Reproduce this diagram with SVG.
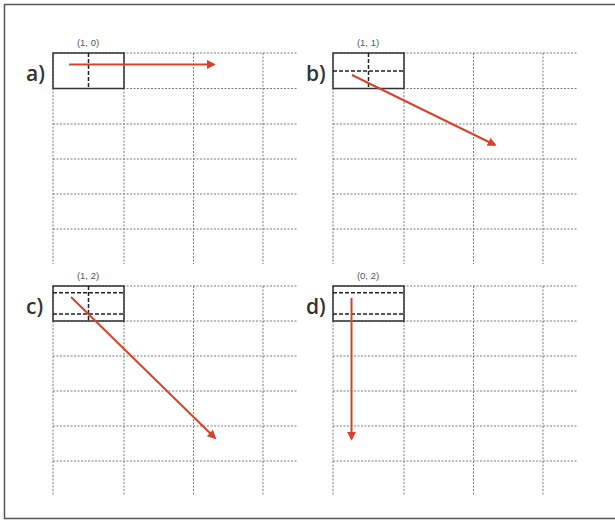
<svg xmlns="http://www.w3.org/2000/svg" width="615" height="520" viewBox="0 0 615 520">
<defs>
<style>
.bg{fill:#fff}
.frame{fill:none;stroke:#555;stroke-width:1.5}
.grid{stroke:#7a7a7a;stroke-width:1;stroke-dasharray:2 1.5;fill:none}
.box{fill:none;stroke:#333;stroke-width:1.5}
.inner{stroke:#222;stroke-width:1.5;stroke-dasharray:4 2;fill:none}
.arrow{stroke:#d4442a;stroke-width:2;fill:none;marker-end:url(#ah)}
.coord{font-family:"Liberation Sans",Arial,sans-serif;font-size:9.5px;fill:#555;text-anchor:middle}
.lbl{font-family:"Open Sans","Liberation Sans",sans-serif;font-size:21px;font-weight:600;fill:#333}
</style>
<marker id="ah" viewBox="0 0 10 10" refX="8" refY="5" markerWidth="4.5" markerHeight="4.5" orient="auto" markerUnits="strokeWidth">
<path d="M0,0 L10,5 L0,10 z" fill="#d4442a"/>
</marker>
<g id="gridA">
<path class="grid" d="M53,53V264 M124,53V264 M193.5,53V264 M263,53V264 M53,53H298 M53,88.5H298 M53,124H298 M53,159H298 M53,194H298 M53,229H298"/>
</g>
<g id="gridC">
<path class="grid" d="M53,286V495 M124,286V495 M193.5,286V495 M263,286V495 M53,286H298 M53,321H298 M53,356H298 M53,391H298 M53,426H298 M53,461H298"/>
</g>
</defs>
<rect class="bg" width="615" height="520"/>
<rect class="frame" x="4.5" y="4.5" width="620" height="514"/>

<g id="panel-a">
<use href="#gridA"/>
<rect class="box" x="53" y="53" width="71" height="35.5"/>
<line class="inner" x1="88.5" y1="53" x2="88.5" y2="88.5"/>
<text class="coord" x="88" y="46">(1, 0)</text>
<text class="lbl" x="26" y="81">a)</text>
</g>

<g id="panel-b">
<use href="#gridA" transform="translate(280,0)"/>
<rect class="box" x="333" y="53" width="71" height="35.5"/>
<line class="inner" x1="368.5" y1="53" x2="368.5" y2="88.5"/>
<line class="inner" x1="333" y1="71" x2="404" y2="71"/>
<text class="coord" x="368" y="46">(1, 1)</text>
<text class="lbl" x="306" y="81">b)</text>
</g>

<g id="panel-c">
<use href="#gridC"/>
<rect class="box" x="53" y="286" width="71" height="35"/>
<line class="inner" x1="88.5" y1="286" x2="88.5" y2="321"/>
<line class="inner" x1="53" y1="292.7" x2="124" y2="292.7"/>
<line class="inner" x1="53" y1="314" x2="124" y2="314"/>
<text class="coord" x="88" y="279">(1, 2)</text>
<text class="lbl" x="26" y="314">c)</text>
</g>

<g id="panel-d">
<use href="#gridC" transform="translate(280,0)"/>
<rect class="box" x="333" y="286" width="71" height="35"/>
<line class="inner" x1="333" y1="292.7" x2="404" y2="292.7"/>
<line class="inner" x1="333" y1="314" x2="404" y2="314"/>
<text class="coord" x="368" y="279">(0, 2)</text>
<text class="lbl" x="306" y="314">d)</text>
</g>

<g id="connectors">
<line class="arrow" x1="69" y1="64.5" x2="214" y2="64.5"/>
<line class="arrow" x1="352" y1="75" x2="495" y2="145"/>
<line class="arrow" x1="71" y1="297" x2="215" y2="438"/>
<line class="arrow" x1="351.5" y1="298" x2="351.5" y2="439"/>
</g>
</svg>
